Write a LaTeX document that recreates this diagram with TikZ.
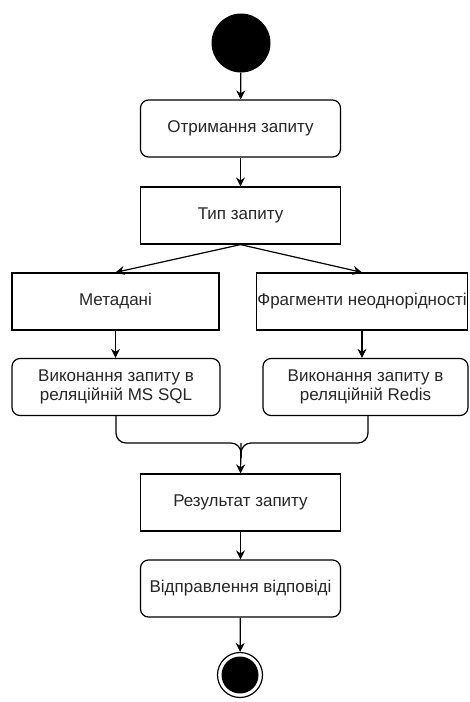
\documentclass[tikz,border=0pt]{standalone}
\usepackage{fontspec}
\setmainfont{Liberation Sans}
\usetikzlibrary{arrows.meta}
\begin{document}
\begin{tikzpicture}[x=1pt,y=-1pt,
  every node/.style={font=\fontsize{17}{19}\selectfont, text=black!85},
  act/.style={draw=black, line width=1.2pt, rounded corners=8pt, minimum width=200pt, minimum height=57pt, align=center, inner sep=0pt},
  sq/.style={draw=black, line width=1.2pt, minimum width=200pt, minimum height=57pt, align=center, inner sep=0pt},
  flow/.style={draw=black, line width=1.2pt, -{Stealth[length=9pt,width=9pt]}},
  merge/.style={draw=black, line width=1.2pt, rounded corners=10pt}]
\useasboundingbox (0,0) rectangle (469,702);
% start and final states
\node[circle, fill=black, minimum size=59pt, inner sep=0pt] (start) at (241,43) {};
\node[circle, draw=black, line width=1.2pt, minimum size=45pt, inner sep=0pt] (final) at (240,675) {};
\fill[black] (final.center) circle (18.5pt);
% activities
\node[act] (recv) at (240.5,128.5) {Отримання запиту};
\node[sq] (type) at (240.5,215.5) {Тип запиту};
\node[sq, minimum width=207pt] (meta) at (115.5,301.5) {Метадані};
\node[sq, minimum width=211pt] (frag) at (362,301.5) {Фрагменти неоднорідності};
\node[act, minimum width=208pt] (sql) at (116,387) {Виконання запиту в\\реляційній MS SQL};
\node[act, minimum width=205pt] (redis) at (365.5,387) {Виконання запиту в\\реляційній Redis};
\node[sq] (res) at (240.5,502.5) {Результат запиту};
\node[act] (send) at (240.5,588.5) {Відправлення відповіді};
\coordinate (join) at (241,443);
\coordinate (joinlow) at (241,458);
% connectors
\draw[flow] (start) -- (recv);
\draw[flow] (recv) -- (type);
\draw[flow] (type.south) -- (meta.north);
\draw[flow] (type.south) -- (frag.north);
\draw[flow] (meta.south) -- (meta.south |- sql.north);
\draw[flow] (frag.south) -- (frag.south |- redis.north);
\draw[merge] (sql.south) -- (sql.south |- join) -- (join) -- (joinlow);
\draw[merge] (redis.south -| 368,0) -- (368,443) -- (join) -- (joinlow);
\draw[flow] (join) -- (res.north);
\draw[flow] (res) -- (send);
\draw[flow] (send) -- (final);
\end{tikzpicture}
\end{document}
